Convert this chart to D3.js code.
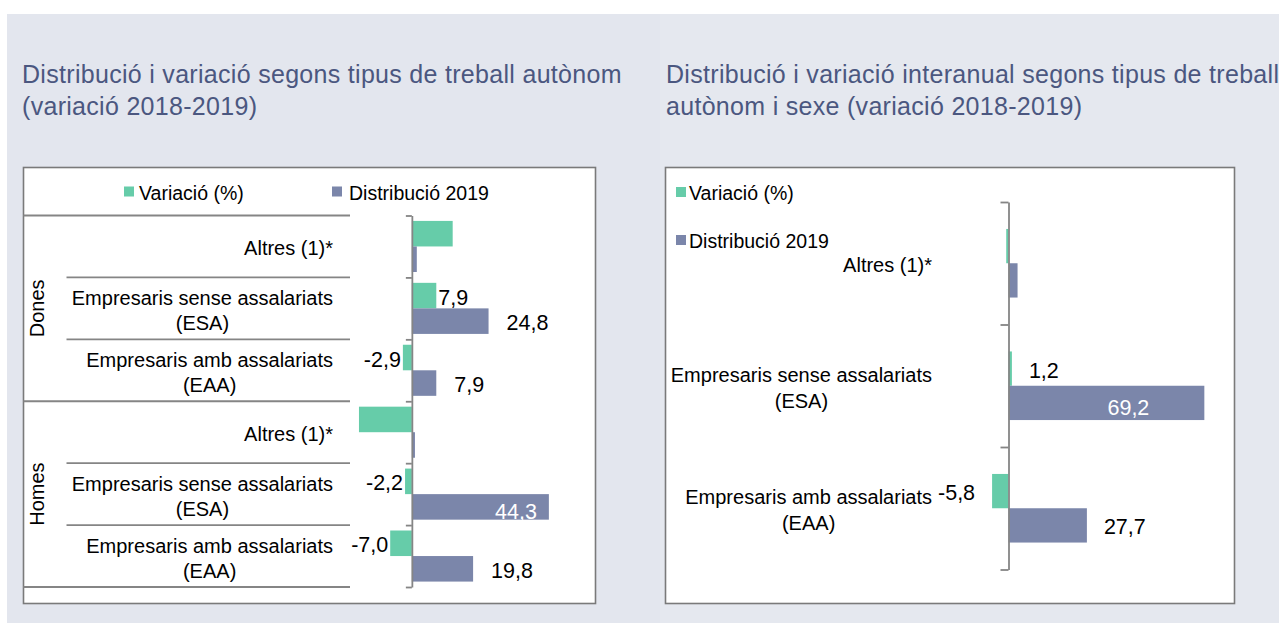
<!DOCTYPE html>
<html>
<head>
<meta charset="utf-8">
<script src="https://cdn.jsdelivr.net/npm/d3@7"></script>
<style>
body { margin: 0; background: #fff; }
svg { display: block; font-family: "Liberation Sans", Arial, sans-serif; }
</style>
</head>
<body>
<div id="chart"></div>
<script>
// categories
var sexes = ["Dones", "Homes"];
var types = ["Altres (1)*", "Empresaris sense assalariats\n(ESA)", "Empresaris amb assalariats\n(EAA)"];
var seriesNames = ["Variació (%)", "Distribució 2019"];

// left chart: by sex (Dones x3, Homes x3)
var variacioSexe = [13.2, 7.9, -2.9, -17.1, -2.2, -7.0];
var distribSexe  = [1.6, 24.8, 7.9, 1.0, 44.3, 19.8];
var labelSexe    = [false, true, true, false, true, true];

// right chart: total
var variacioTotal = [-0.8, 1.2, -5.8];
var distribTotal  = [3.2, 69.2, 27.7];
var labelTotal    = [false, true, true];

var titleLeft  = ["Distribució i variació segons tipus de treball autònom", "(variació 2018-2019)"];
var titleRight = ["Distribució i variació interanual segons tipus de treball", "autònom i sexe (variació 2018-2019)"];

var green = "#66cca9", purple = "#7b86aa", gridGrey = "#858585";
var fmt = d3.formatLocale({decimal: ",", thousands: ".", grouping: [3], currency: ["", ""], minus: "-"}).format(".1f");

var svg = d3.select("#chart").append("svg")
  .attr("width", 1279)
  .attr("height", 623);

// background panels
svg.append("rect").attr("x", 7).attr("y", 14).attr("width", 653).attr("height", 609).attr("fill", "#e3e6ee");
svg.append("rect").attr("x", 660).attr("y", 14).attr("width", 619).attr("height", 609).attr("fill", "#e5e8ef");

// titles
function drawTitle(lines, x) {
  svg.append("g").selectAll("text")
    .data(lines)
    .enter().append("text")
    .attr("x", x)
    .attr("y", function (d, i) { return 83 + i * 32; })
    .attr("fill", "#4b5780")
    .style("font-size", "25px")
    .style("letter-spacing", "0.3px")
    .text(function (d) { return d; });
}
drawTitle(titleLeft, 22);
drawTitle(titleRight, 666);

// chart boxes
svg.append("rect").attr("x", 23.5).attr("y", 167.5).attr("width", 572).attr("height", 436)
  .attr("fill", "#fff").attr("stroke", "#7a7a7a").attr("stroke-width", 1.6);
svg.append("rect").attr("x", 665.5).attr("y", 167.5).attr("width", 569).attr("height", 436)
  .attr("fill", "#fff").attr("stroke", "#7a7a7a").attr("stroke-width", 1.6);

// draws a category label, lines centred, block right-aligned at xr
function catLabel(g, text, xr, yc, lineH) {
  var lines = text.split("\n");
  var t = g.append("text").style("font-size", "20px").attr("fill", "#000");
  var spans = t.selectAll("tspan").data(lines).enter().append("tspan").text(function (d) { return d; });
  var w = 0;
  spans.each(function () { w = Math.max(w, this.getComputedTextLength()); });
  var y0 = yc - (lines.length - 1) * lineH / 2;
  spans.attr("x", xr - w / 2)
    .attr("y", function (d, i) { return y0 + i * lineH; })
    .attr("text-anchor", "middle")
    .attr("dominant-baseline", "central");
}

function barChart(opt) {
  var g = svg.append("g");
  var n = opt.variacio.length;
  var x = d3.scaleLinear().domain(opt.xDomain).range(opt.xRange);
  var rows = d3.scaleBand().domain(d3.range(n)).range(opt.yRange)
    .paddingInner(opt.pad).paddingOuter(opt.pad / 2);
  var bh = rows.bandwidth() / 2;
  var bounds = d3.scaleLinear().domain([0, n]).range(opt.yRange);

  var rowsData = d3.range(n).map(function (i) {
    return {i: i, v: opt.variacio[i], d: opt.distrib[i], lab: opt.labelled[i]};
  });

  // bars
  g.selectAll(".var").data(rowsData).enter().append("rect")
    .attr("x", function (d) { return x(Math.min(0, d.v)); })
    .attr("width", function (d) { return Math.abs(x(d.v) - x(0)); })
    .attr("y", function (d) { return rows(d.i); })
    .attr("height", bh)
    .attr("fill", green);
  g.selectAll(".dis").data(rowsData).enter().append("rect")
    .attr("x", function (d) { return x(Math.min(0, d.d)); })
    .attr("width", function (d) { return Math.abs(x(d.d) - x(0)); })
    .attr("y", function (d) { return rows(d.i) + bh; })
    .attr("height", bh)
    .attr("fill", purple);

  // value axis line with ticks on the category boundaries
  g.append("g")
    .attr("transform", "translate(" + x(0) + ",0)")
    .call(d3.axisLeft(bounds).tickValues(d3.range(n + 1)).tickSize(opt.tick).tickSizeOuter(0).tickFormat(""))
    .call(function (a) {
      a.selectAll("path, line").attr("stroke", gridGrey).attr("stroke-width", 1.8);
    });

  // data labels
  var labelled = rowsData.filter(function (d) { return d.lab; });
  g.selectAll(".lv").data(labelled).enter().append("text")
    .attr("x", function (d) { return d.v < 0 ? x(d.v) - opt.gapVar : x(d.v) + opt.gapVar; })
    .attr("y", function (d) { return rows(d.i) + bh / 2 + 2; })
    .attr("text-anchor", function (d) { return d.v < 0 ? "end" : "start"; })
    .attr("dominant-baseline", "central")
    .style("font-size", "21.5px")
    .text(function (d) { return fmt(d.v); });
  g.selectAll(".ld").data(labelled).enter().append("text")
    .each(function (d) {
      var t = d3.select(this).text(fmt(d.d)).style("font-size", "21.5px");
      var w = this.getComputedTextLength();
      var inside = x(d.d) + opt.gapDis + w > opt.boxRight;
      t.attr("x", inside ? x(d.d) - opt.insideGap : x(d.d) + opt.gapDis)
        .attr("text-anchor", inside ? "end" : "start")
        .attr("fill", inside ? "#fff" : "#000")
        .attr("y", rows(d.i) + bh * 1.5 + (inside ? 5 : 2))
        .attr("dominant-baseline", "central");
    });

  // category labels
  rowsData.forEach(function (d) {
    catLabel(g, opt.cats[d.i], opt.labelRight, bounds(d.i + 0.5) + 2, opt.lineH);
  });
  return {g: g, bounds: bounds};
}

// left chart
var left = barChart({
  variacio: variacioSexe, distrib: distribSexe, labelled: labelSexe,
  cats: types.concat(types),
  xDomain: [-20, 50], xRange: [350, 566.5],
  yRange: [215.5, 587], pad: 0.175, tick: 6,
  gapVar: 2, gapDis: 18, insideGap: 12, boxRight: 595,
  labelRight: 333, lineH: 25
});

// multi-level separators and group labels
d3.range(7).forEach(function (k) {
  left.g.append("line")
    .attr("x1", k % 3 === 0 ? 23.5 : 66.5).attr("x2", 350)
    .attr("y1", left.bounds(k)).attr("y2", left.bounds(k))
    .attr("stroke", gridGrey).attr("stroke-width", 1.8);
});
sexes.forEach(function (s, j) {
  var yc = left.bounds(j * 3 + 1.5);
  left.g.append("text")
    .attr("transform", "translate(37," + yc + ") rotate(-90)")
    .attr("text-anchor", "middle")
    .attr("dominant-baseline", "central")
    .style("font-size", "20px")
    .text(s);
});

// left legend (horizontal, centred)
var legL = svg.append("g");
[[124, 139], [332, 349]].forEach(function (p, i) {
  legL.append("rect").attr("x", p[0]).attr("y", 186.5).attr("width", 10).attr("height", 10)
    .attr("fill", i === 0 ? green : purple);
  legL.append("text").attr("x", p[1]).attr("y", 192.5).attr("dominant-baseline", "central")
    .style("font-size", "19.5px").text(seriesNames[i]);
});

// right chart
barChart({
  variacio: variacioTotal, distrib: distribTotal, labelled: labelTotal,
  cats: types,
  xDomain: [-20, 70], xRange: [951.9, 1206.6],
  yRange: [202, 569.5], pad: 0.44, tick: 8,
  gapVar: 17, gapDis: 17, insideGap: 55, boxRight: 1234,
  labelRight: 932, lineH: 26
});

// right legend (vertical)
var legR = svg.append("g");
seriesNames.forEach(function (s, i) {
  legR.append("rect").attr("x", 676).attr("y", 187 + i * 48).attr("width", 10).attr("height", 10)
    .attr("fill", i === 0 ? green : purple);
  legR.append("text").attr("x", 689).attr("y", 193 + i * 48).attr("dominant-baseline", "central")
    .style("font-size", "19.5px").text(s);
});
</script>
</body>
</html>
